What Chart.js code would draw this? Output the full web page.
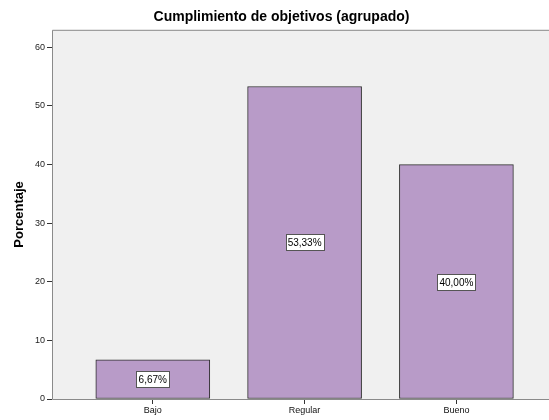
<!DOCTYPE html>
<html>
<head>
<meta charset="utf-8">
<script src="https://cdn.jsdelivr.net/npm/chart.js@4/dist/chart.umd.min.js"></script>
<style>
  html, body { margin: 0; padding: 0; background: #fff; }
  #wrap { width: 549px; height: 420px; }
</style>
</head>
<body>
<div id="wrap"><canvas id="c"></canvas></div>
<script>
var categories = ['Bajo', 'Regular', 'Bueno'];
var percentages = [6.67, 53.33, 40.00];
var valueLabels = ['6,67%', '53,33%', '40,00%'];
var yTicks = [0, 10, 20, 30, 40, 50, 60];

var fontFamily = '"Liberation Sans", Arial, sans-serif';

// plot background, frame and the boxed value labels
var spssLook = {
  id: 'spssLook',
  afterLayout: function(chart) {
    // SPSS centres the title a bit right of the canvas middle
    if (chart.titleBlock) chart.titleBlock.left += 14;
  },
  beforeDatasetsDraw: function(chart) {
    var ctx = chart.ctx, a = chart.chartArea;
    ctx.save();
    ctx.fillStyle = '#f0f0f0';
    ctx.fillRect(a.left, a.top, a.right - a.left, a.bottom - a.top);
    ctx.strokeStyle = '#8a8a8a';
    ctx.lineWidth = 1;
    ctx.beginPath();
    ctx.moveTo(a.right + 1, a.top + 0.5);
    ctx.lineTo(a.left + 0.5, a.top + 0.5);
    ctx.lineTo(a.left + 0.5, a.bottom + 0.5);
    ctx.lineTo(a.right + 1, a.bottom + 0.5);
    ctx.stroke();
    ctx.restore();
  },
  afterDatasetsDraw: function(chart) {
    var ctx = chart.ctx;
    var meta = chart.getDatasetMeta(0);
    ctx.save();
    ctx.font = '10px ' + fontFamily;
    ctx.textAlign = 'center';
    ctx.textBaseline = 'middle';
    meta.data.forEach(function(bar, i) {
      var txt = valueLabels[i];
      var cy = Math.round((bar.y + bar.base) / 2);
      var w = Math.ceil(ctx.measureText(txt).width) + 4;
      var h = 16;
      var x0 = Math.round(bar.x - w / 2) + 0.5, y0 = cy - Math.round(h / 2) + 0.5;
      ctx.fillStyle = '#ffffff';
      ctx.fillRect(x0, y0, w, h);
      ctx.strokeStyle = '#555555';
      ctx.lineWidth = 1;
      ctx.strokeRect(x0, y0, w, h);
      ctx.fillStyle = '#000000';
      ctx.fillText(txt, bar.x, cy + 1);
    });
    ctx.restore();
  }
};

new Chart(document.getElementById('c'), {
  type: 'bar',
  data: {
    datasets: [{
      data: percentages.map(function(v, i) { return { x: i, y: v }; }),
      backgroundColor: '#b89bc8',
      borderColor: '#2e2e2e',
      borderWidth: 1,
      borderSkipped: false,
      barThickness: 114
    }]
  },
  options: {
    responsive: true,
    maintainAspectRatio: false,
    animation: false,
    layout: { padding: 0 },
    plugins: {
      legend: { display: false },
      tooltip: { enabled: false },
      title: {
        display: true,
        text: 'Cumplimiento de objetivos (agrupado)',
        color: '#000',
        font: { family: fontFamily, size: 14, weight: 'bold', lineHeight: 1.2 },
        padding: { top: 9, bottom: 4 }
      }
    },
    scales: {
      x: {
        type: 'linear',
        offset: false,
        min: -0.664,
        max: 2.61,
        afterBuildTicks: function(scale) {
          scale.ticks = categories.map(function(c, i) { return { value: i }; });
        },
        afterFit: function(scale) { scale.height = 21; },
        border: { display: false },
        grid: { offset: false, drawOnChartArea: false, drawTicks: true, tickLength: 5, tickColor: '#333' },
        ticks: {
          color: '#111',
          padding: 1,
          font: { family: fontFamily, size: 9 },
          callback: function(v) { return categories[v]; }
        }
      },
      y: {
        min: 0,
        max: 63,
        afterBuildTicks: function(scale) {
          scale.ticks = yTicks.map(function(v) { return { value: v }; });
        },
        afterFit: function(scale) { scale.width = 52; },
        border: { display: false },
        grid: { drawOnChartArea: false, drawTicks: true, tickLength: 5, tickColor: '#333' },
        ticks: {
          color: '#222',
          padding: 2,
          font: { family: fontFamily, size: 9 }
        },
        title: {
          display: true,
          text: 'Porcentaje',
          color: '#000',
          padding: { top: 12, bottom: 0 },
          font: { family: fontFamily, size: 13, weight: 'bold' }
        }
      }
    }
  },
  plugins: [spssLook]
});
</script>
</body>
</html>
